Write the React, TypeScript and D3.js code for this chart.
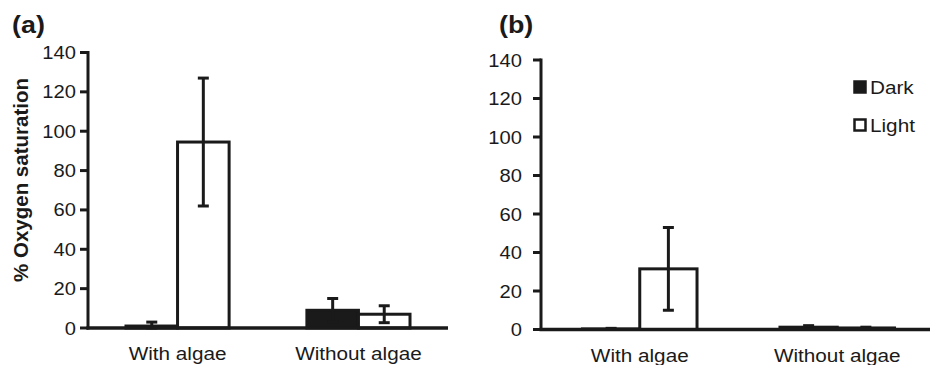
import React from 'react';
import * as d3 from 'd3';

const categories = ['With algae', 'Without algae'];
const seriesNames = ['Dark', 'Light'];

// panel (a)
const aDark = [1, 9];
const aDarkErr = [2, 6];
const aLight = [94.5, 7];
const aLightErr = [32.5, 4.3];

// panel (b)
const bDark = [0.3, 1.2];
const bDarkErr = [0.3, 0.8];
const bLight = [31.5, 0.8];
const bLightErr = [21.5, 0.4];

const yTicks = [0, 20, 40, 60, 80, 100, 120, 140];

const FONT = 'Liberation Sans, Arial, Helvetica, sans-serif';
const SX = 1.12; // the source type looks slightly wide

interface PanelProps {
  tag: string;
  tagX: number;
  dark: number[];
  darkErr: number[];
  light: number[];
  lightErr: number[];
  x0: number;
  x1: number;
  yTop: number;
  yZero: number;
  pi: number;
  po: number;
  labelGap: number;
  showYLabel?: boolean;
  showLegend?: boolean;
}

const Txt: React.FC<{ x: number; y: number; size: number; anchor?: string; bold?: boolean; children: React.ReactNode }> = ({ x, y, size, anchor = 'start', bold, children }) => (
  <text
    transform={`translate(${x},${y}) scale(${SX},1)`}
    fontSize={size}
    fontFamily={FONT}
    fontWeight={bold ? 'bold' : 'normal'}
    textAnchor={anchor}
    fill="#1a1a1a"
  >
    {children}
  </text>
);

const Panel: React.FC<PanelProps> = (p) => {
  const y = d3.scaleLinear().domain([0, 140]).range([p.yZero, p.yTop]);
  const x = d3.scaleBand<string>().domain(categories).range([p.x0, p.x1])
    .paddingInner(p.pi).paddingOuter(p.po);
  const sub = d3.scaleBand<string>().domain(seriesNames).range([0, x.bandwidth()]);
  const ink = '#1a1a1a';

  const bars = categories.flatMap((c, i) => [
    { c, s: 'Dark', v: p.dark[i], e: p.darkErr[i] },
    { c, s: 'Light', v: p.light[i], e: p.lightErr[i] },
  ]);

  return (
    <g>
      <Txt x={p.tagX} y={33} size={24} bold>{p.tag}</Txt>
      {/* y axis */}
      {yTicks.map(t => (
        <g key={t}>
          <line x1={p.x0 - 8} x2={p.x0} y1={y(t)} y2={y(t)} stroke={ink} strokeWidth={3} />
          <Txt x={p.x0 - p.labelGap} y={y(t) + 6.5} size={18} anchor="end">{t}</Txt>
        </g>
      ))}
      <line x1={p.x0} x2={p.x0} y1={y(140) - 1.5} y2={y(0) + 1.5} stroke={ink} strokeWidth={3} />
      {bars.map((b, k) => {
        const bx = (x(b.c) as number) + (sub(b.s) as number);
        const bw = sub.bandwidth();
        const cx = bx + bw / 2;
        const lo = Math.max(0, b.v - b.e);
        return (
          <g key={k}>
            <rect x={bx} y={y(b.v)} width={bw} height={Math.max(0, y(0) - y(b.v))}
              fill={b.s === 'Dark' ? ink : '#fff'} stroke={ink} strokeWidth={3} />
            <line x1={cx} x2={cx} y1={y(b.v + b.e)} y2={y(lo)} stroke={ink} strokeWidth={3} />
            <line x1={cx - 5.5} x2={cx + 5.5} y1={y(b.v + b.e)} y2={y(b.v + b.e)} stroke={ink} strokeWidth={3} />
            <line x1={cx - 5.5} x2={cx + 5.5} y1={y(lo)} y2={y(lo)} stroke={ink} strokeWidth={3} />
          </g>
        );
      })}
      {/* x axis */}
      <line x1={p.x0 - 1.5} x2={p.x1} y1={y(0)} y2={y(0)} stroke={ink} strokeWidth={3.5} />
      {categories.map(c => (
        <Txt key={c} x={(x(c) as number) + x.bandwidth() / 2} y={p.yZero + 32} size={18.5} anchor="middle">{c}</Txt>
      ))}
      {p.showYLabel && (
        <text transform={`translate(28,180) rotate(-90)`} fontSize={20.5} fontWeight="bold"
          fontFamily={FONT} textAnchor="middle" fill={ink}>% Oxygen saturation</text>
      )}
      {p.showLegend && seriesNames.map((s, i) => (
        <g key={s} transform={`translate(854,${81 + i * 38})`}>
          <rect x={0.5} y={0.5} width={11} height={11} fill={s === 'Dark' ? ink : '#fff'} stroke={ink} strokeWidth={2.5} />
          <Txt x={16} y={12.5} size={18.5}>{s}</Txt>
        </g>
      ))}
    </g>
  );
};

export default function App() {
  return (
    <svg width={930} height={365} style={{ position: 'absolute', left: 0, top: 0, background: '#fff' }}>
      <rect width={930} height={365} fill="#fff" />
      <Panel tag="(a)" tagX={12} dark={aDark} darkErr={aDarkErr} light={aLight} lightErr={aLightErr}
        x0={88} x1={448} yTop={52.5} yZero={328} pi={0.43} po={0.21} labelGap={12} showYLabel />
      <Panel tag="(b)" tagX={499} dark={bDark} darkErr={bDarkErr} light={bLight} lightErr={bLightErr}
        x0={541} x1={936} yTop={60} yZero={329.5} pi={0.42} po={0.21} labelGap={19} showLegend />
    </svg>
  );
}
